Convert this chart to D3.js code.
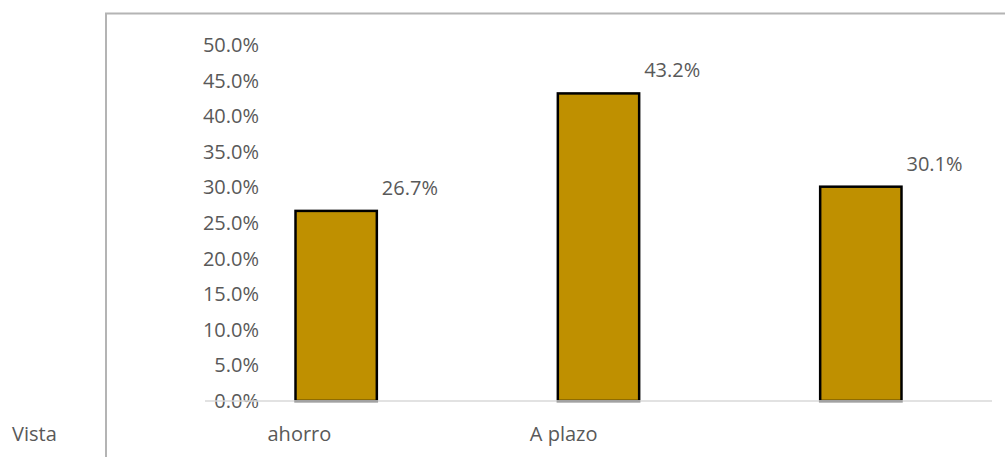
<!DOCTYPE html>
<html lang="es">
<head>
<meta charset="UTF-8"/>
<script src="https://d3js.org/d3.v7.min.js"></script>
<style>
  body { margin: 0; background: #fff; }
  text { font-family: "Open Sans", sans-serif; fill: #595959; }
</style>
</head>
<body>
<div id="chart"></div>
<script>
// chart data
var categories = ["ahorro", "A plazo", "Vista"];
var values = [0.267, 0.432, 0.301];
var yTicks = [0, 0.05, 0.10, 0.15, 0.20, 0.25, 0.30, 0.35, 0.40, 0.45, 0.50];

var width = 1005;
var height = 457;
var fontSize = "20px";

var svg = d3.select("#chart")
  .append("svg")
  .attr("width", width)
  .attr("height", height);

// outer frame (only top and left edges show)
svg.append("path")
  .attr("d", "M106,457V13.5H1005")
  .attr("fill", "none")
  .attr("stroke", "#b4b4b4")
  .attr("stroke-width", 2);

var x = d3.scaleBand()
  .domain(categories)
  .range([205, 992])
  .paddingInner(0.69)
  .paddingOuter(0.345);

var y = d3.scaleLinear()
  .domain([0, 0.5])
  .range([401, 45]);

// y axis labels
var yAxis = svg.append("g")
  .attr("transform", "translate(259,0)")
  .call(d3.axisLeft(y).tickValues(yTicks).tickSize(0).tickPadding(0).tickFormat(d3.format(".1%")));
yAxis.select(".domain").remove();
yAxis.selectAll("text")
  .style("font-family", "Open Sans")
  .style("font-size", fontSize)
  .attr("fill", "#595959");

// bars
svg.selectAll("rect.bar")
  .data(values)
  .enter()
  .append("rect")
  .attr("class", "bar")
  .attr("x", function(d, i) { return x(categories[i]); })
  .attr("y", function(d) { return y(d); })
  .attr("width", x.bandwidth())
  .attr("height", function(d) { return y(0) - y(d); })
  .attr("fill", "#bf9000")
  .attr("stroke", "#000")
  .attr("stroke-width", 2.5);

// baseline
svg.append("line")
  .attr("x1", 205).attr("x2", 992)
  .attr("y1", y(0)).attr("y2", y(0))
  .attr("stroke", "#d9d9d9")
  .attr("stroke-width", 1.5);

// value labels
svg.selectAll("text.val")
  .data(values)
  .enter()
  .append("text")
  .attr("class", "val")
  .attr("x", function(d, i) { return x(categories[i]) + x.bandwidth() + 5; })
  .attr("y", function(d) { return y(d) - 16; })
  .style("font-size", fontSize)
  .text(function(d) { return d3.format(".1%")(d); });

// category labels (the last one sits outside the frame, as in the source)
svg.selectAll("text.cat")
  .data(categories)
  .enter()
  .append("text")
  .attr("class", "cat")
  .attr("x", function(d, i) {
    if (i === categories.length - 1) return 12;
    return x(d) - 28;
  })
  .attr("y", 441)
  .style("font-size", fontSize)
  .text(function(d) { return d; });
</script>
</body>
</html>
